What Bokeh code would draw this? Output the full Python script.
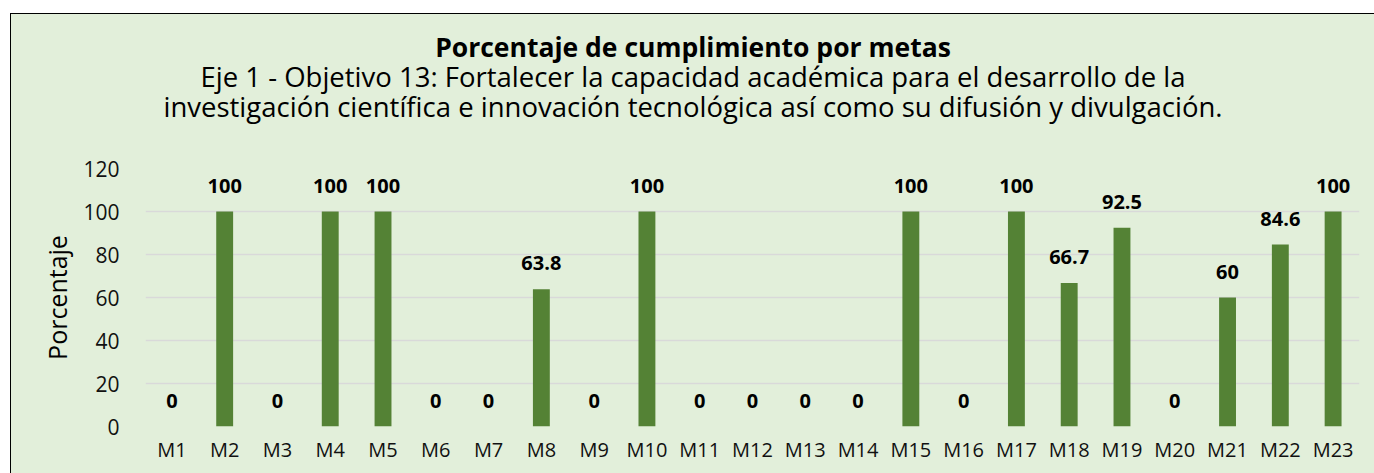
from bokeh.plotting import figure
from bokeh.models import ColumnDataSource, LabelSet, FactorRange, SingleIntervalTicker, Div
from bokeh.layouts import column
from bokeh.core.properties import value
from bokeh.embed import file_html
from bokeh.resources import INLINE

metas = ["M1", "M2", "M3", "M4", "M5", "M6", "M7", "M8", "M9", "M10", "M11", "M12",
         "M13", "M14", "M15", "M16", "M17", "M18", "M19", "M20", "M21", "M22", "M23"]
porcentaje = [0, 100, 0, 100, 100, 0, 0, 63.8, 0, 100, 0, 0, 0, 0, 100, 0, 100,
              66.7, 92.5, 0, 60, 84.6, 100]
etiquetas = ["0", "100", "0", "100", "100", "0", "0", "63.8", "0", "100", "0", "0", "0",
             "0", "100", "0", "100", "66.7", "92.5", "0", "60", "84.6", "100"]

titulo = "Porcentaje de cumplimiento por metas"
subtitulo1 = "Eje 1 - Objetivo 13: Fortalecer la capacidad académica para el desarrollo de la"
subtitulo2 = "investigación científica e innovación tecnológica así como su difusión y divulgación."

FONT = "Open Sans"
BG = "#E2EFDA"

W = 1364
HEAD_H = 130
H = 460 - HEAD_H

header = Div(
    text=(f'<div style="width:{W}px;height:{HEAD_H}px;box-sizing:border-box;padding-top:18px;'
          f'font-family:\'{FONT}\';color:black;text-align:center;">'
          f'<div style="font-weight:bold;font-size:26.5px;line-height:30px;white-space:nowrap;">{titulo}</div>'
          f'<div style="font-size:27.5px;line-height:30px;white-space:nowrap;">{subtitulo1}</div>'
          f'<div style="font-size:27.5px;line-height:29px;white-space:nowrap;">{subtitulo2}</div>'
          '</div>'),
    width=W, height=HEAD_H, margin=0,
    styles={"background-color": BG})

p = figure(x_range=FactorRange(*metas), y_range=(0, 120), width=W, height=H,
           output_backend="svg", toolbar_location=None,
           min_border_left=134, min_border_right=16, min_border_top=24,
           min_border_bottom=48, margin=0)
p.background_fill_color = BG
p.border_fill_color = BG
p.outline_line_color = None

src = ColumnDataSource(dict(x=metas, y=porcentaje, t=etiquetas))
p.vbar(x="x", top="y", width=0.32, source=src, color="#548235", line_color=None)

p.add_layout(LabelSet(x="x", y="y", text="t", source=src, y_offset=19,
                      text_align="center", text_baseline="bottom",
                      text_font=value(FONT), text_font_style="bold", text_font_size="20px",
                      text_color="black"))

p.xgrid.grid_line_color = None
p.ygrid.grid_line_color = "#D9D9D9"
p.ygrid.grid_line_width = 1.5
p.yaxis.ticker = SingleIntervalTicker(interval=20)
for ax in (p.xaxis[0], p.yaxis[0]):
    ax.axis_line_color = None
    ax.major_tick_line_color = None
    ax.minor_tick_line_color = None
    ax.major_label_text_font = FONT
    ax.major_label_text_color = "#111111"
p.xaxis.major_label_text_font_size = "20px"
p.xaxis.major_label_standoff = 3
p.yaxis.major_label_text_font_size = "21px"
p.yaxis.major_label_standoff = 20
p.yaxis.axis_label = "Porcentaje"
p.yaxis.axis_label_text_font = FONT
p.yaxis.axis_label_text_font_style = "normal"
p.yaxis.axis_label_text_color = "black"
p.yaxis.axis_label_text_font_size = "25px"
p.yaxis.axis_label_standoff = 6

layout = column(header, p, spacing=0, margin=(13, 0, 0, 10))
layout.styles = {"border-top": "1px solid black", "border-left": "1px solid black",
                 "box-sizing": "border-box", "background-color": BG}

open("out.html", "w").write(file_html(layout, INLINE))
